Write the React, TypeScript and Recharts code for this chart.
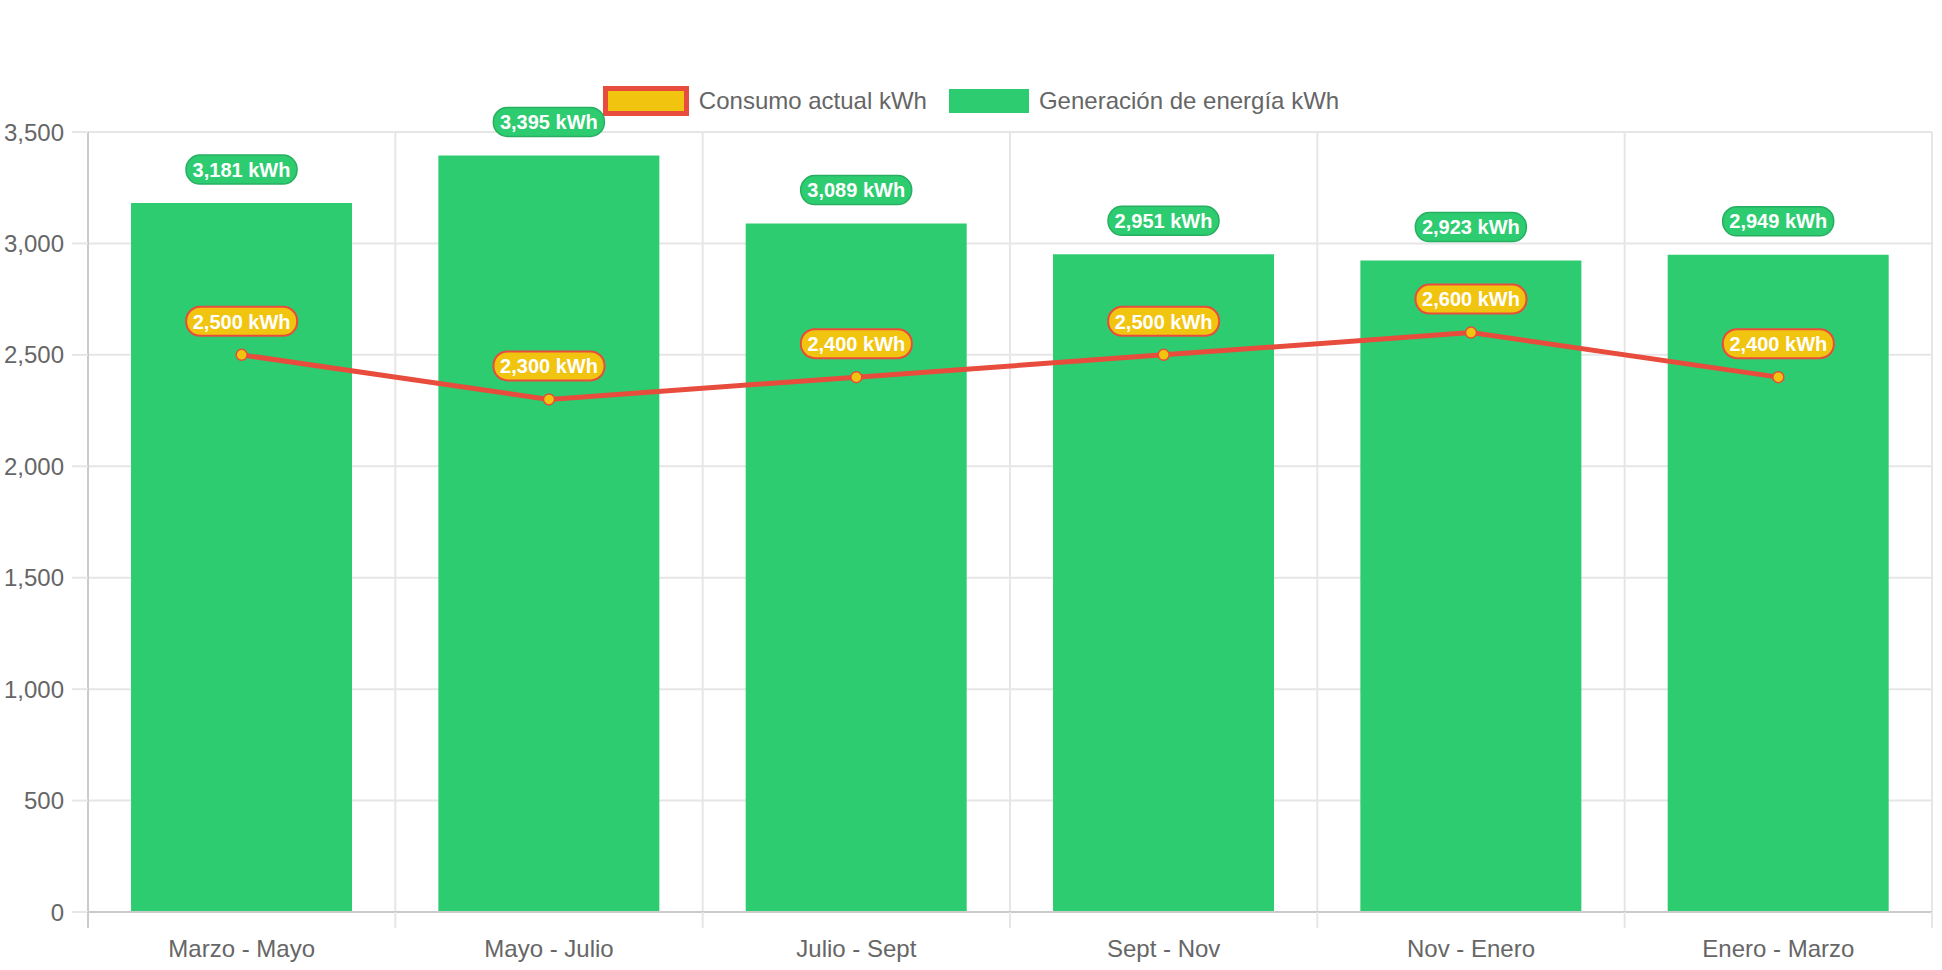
import { Bar, CartesianGrid, ComposedChart, LabelList, Line, XAxis, YAxis } from 'recharts';

const periods = ['Marzo - Mayo', 'Mayo - Julio', 'Julio - Sept', 'Sept - Nov', 'Nov - Enero', 'Enero - Marzo'];
const generacion = [3181, 3395, 3089, 2951, 2923, 2949];
const consumo = [2500, 2300, 2400, 2500, 2600, 2400];
const yTicks = [0, 500, 1000, 1500, 2000, 2500, 3000, 3500];

const data = periods.map((period, i) => ({
  period,
  generacion: generacion[i],
  consumo: consumo[i],
}));

const W = 1942;
const H = 970;
const Y_AXIS_W = 88;
const RIGHT = 10;
const PLOT_W = W - Y_AXIS_W - RIGHT;
const CAT_W = PLOT_W / periods.length;
const FONT = '"Liberation Sans", Arial, Helvetica, sans-serif';
const GRID = '#e6e6e6';
const AXIS = '#cbcbcb';
const TEXT = '#666666';
const GREEN = '#2ecc71';
const YELLOW = '#f1c40f';
const RED = '#e74c3c';

const fmt = (v: number) => v.toLocaleString('en-US');

function XTick(props: any) {
  const { x, y, payload, index } = props;
  const top = y - 28;
  const left = x - CAT_W / 2;
  return (
    <g>
      <line x1={left} x2={left} y1={top} y2={top + 16} stroke={index === 0 ? AXIS : GRID} strokeWidth={2} />
      {index === periods.length - 1 && (
        <line x1={x + CAT_W / 2} x2={x + CAT_W / 2} y1={top} y2={top + 16} stroke={GRID} strokeWidth={2} />
      )}
      <text x={x} y={y} dy="0.71em" textAnchor="middle" fill={TEXT} fontSize={24} fontFamily={FONT}>
        {payload.value}
      </text>
    </g>
  );
}

function Pill({ cx, bottom, value, fill, stroke, strokeWidth }: any) {
  const w = 111;
  const h = 29;
  return (
    <g>
      <rect x={cx - w / 2} y={bottom - h} width={w} height={h} rx={14} ry={14} fill={fill} stroke={stroke} strokeWidth={strokeWidth} />
      <text x={cx} y={bottom - h / 2} dy="0.36em" textAnchor="middle" fill="#ffffff" fontSize={20} fontWeight="bold" fontFamily={FONT}>
        {fmt(value)} kWh
      </text>
    </g>
  );
}

const BarLabel = (props: any) => {
  const { x, y, width, value } = props;
  return <Pill cx={x + width / 2} bottom={y - 19} value={value} fill={GREEN} stroke="#27ae60" strokeWidth={1.5} />;
};

const LineLabel = (props: any) => {
  const { x, y, value } = props;
  return <Pill cx={x} bottom={y - 19} value={value} fill={YELLOW} stroke={RED} strokeWidth={2} />;
};

function LegendBar() {
  const item = { display: 'flex', alignItems: 'center' } as const;
  const label = { fontSize: 24, color: TEXT, fontFamily: FONT, marginLeft: 10 } as const;
  return (
    <div
      style={{
        position: 'absolute',
        top: 85,
        left: 0,
        width: W,
        height: 31,
        display: 'flex',
        justifyContent: 'center',
        alignItems: 'center',
        gap: 22,
      }}
    >
      <div style={item}>
        <div style={{ width: 76, height: 20, background: YELLOW, border: `5px solid ${RED}` }} />
        <span style={label}>Consumo actual kWh</span>
      </div>
      <div style={item}>
        <div style={{ width: 80, height: 24, background: GREEN }} />
        <span style={label}>Generación de energía kWh</span>
      </div>
    </div>
  );
}

export default function App() {
  return (
    <div style={{ position: 'absolute', left: 0, top: 0, width: W, height: H, background: '#fff' }}>
      <LegendBar />
      <ComposedChart
        width={W}
        height={H}
        data={data}
        margin={{ top: 132, right: RIGHT, bottom: 0, left: 0 }}
        barCategoryGap="14%"
        style={{ overflow: 'visible' }}
      >
        <CartesianGrid
          stroke={GRID}
          strokeWidth={2}
          verticalCoordinatesGenerator={({ offset }: any) =>
            periods.map((_, i) => offset.left + (i + 1) * (offset.width / periods.length))
          }
        />
        <XAxis
          dataKey="period"
          height={58}
          axisLine={{ stroke: AXIS, strokeWidth: 2 }}
          tickLine={false}
          tickSize={16}
          tickMargin={12}
          tick={<XTick />}
          interval={0}
        />
        <YAxis
          width={Y_AXIS_W}
          domain={[0, 3500]}
          ticks={yTicks}
          tickFormatter={fmt}
          axisLine={{ stroke: AXIS, strokeWidth: 2 }}
          tickLine={{ stroke: GRID, strokeWidth: 2 }}
          tickSize={16}
          tickMargin={8}
          tick={{ fill: TEXT, fontSize: 24, fontFamily: FONT }}
        />
        <Bar dataKey="generacion" fill={GREEN} isAnimationActive={false}>
          <LabelList dataKey="generacion" content={<BarLabel />} />
        </Bar>
        <Line
          type="linear"
          dataKey="consumo"
          stroke={RED}
          strokeWidth={5}
          dot={{ r: 5.5, fill: YELLOW, stroke: RED, strokeWidth: 1.5 }}
          isAnimationActive={false}
        >
          <LabelList dataKey="consumo" content={<LineLabel />} />
        </Line>
      </ComposedChart>
    </div>
  );
}
